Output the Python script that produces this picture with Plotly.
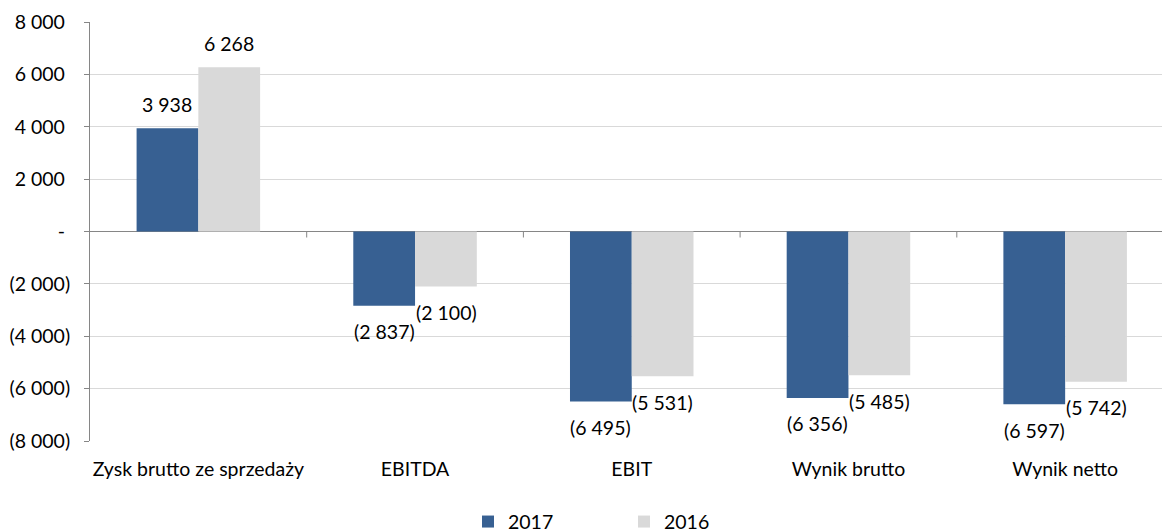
import plotly.graph_objects as go

categories = ["Zysk brutto ze sprzedaży", "EBITDA", "EBIT", "Wynik brutto", "Wynik netto"]
values_2017 = [3938, -2837, -6495, -6356, -6597]
values_2016 = [6268, -2100, -5531, -5485, -5742]
series_names = ["2017", "2016"]
tick_values = [8000, 6000, 4000, 2000, 0, -2000, -4000, -6000, -8000]

COL_2017 = "#376092"
COL_2016 = "#D9D9D9"
FONT = "Lato"
FS = 19.5

PAD = '<span style="color:rgba(0,0,0,0)">)</span>'


def fmt(v):
    if v == 0:
        return "-"
    s = f"{abs(v):,}".replace(",", " ")
    return f"({s})" if v < 0 else s


def fmt_axis(v):
    s = fmt(v)
    return s if v < 0 else s + PAD


fig = go.Figure()
fig.add_trace(go.Bar(x=categories, y=values_2017, name=series_names[0],
                     marker=dict(color=COL_2017, line=dict(width=0))))
fig.add_trace(go.Bar(x=categories, y=values_2016, name=series_names[1],
                     marker=dict(color=COL_2016, line=dict(width=0))))

annotations = []
for vals, shift in ((values_2017, -31), (values_2016, 31)):
    for c, v in zip(categories, vals):
        annotations.append(dict(x=c, y=v, xref="x", yref="y", text=fmt(v),
                                showarrow=False, xshift=shift,
                                yshift=24 if v >= 0 else -26,
                                font=dict(family=FONT, size=FS, color="#000000")))

shapes = []
for i in range(len(categories)):
    shapes.append(dict(type="line", xref="x", yref="y", ysizemode="pixel", yanchor=0,
                       x0=i + 0.5, x1=i + 0.5, y0=0, y1=-6,
                       line=dict(color="#868686", width=1)))

# the reference plot area runs past the right edge of the picture
fig.update_layout(
    width=1180, height=532,
    margin=dict(l=90, r=6, t=22, b=91, autoexpand=False),
    paper_bgcolor="white", plot_bgcolor="white",
    barmode="group", bargap=0.43, bargroupgap=0,
    font=dict(family=FONT, size=FS, color="#000000"),
    showlegend=True,
    legend=dict(orientation="h", x=(468 - 90) / 1084, xanchor="left", y=-0.193,
                yanchor="middle",
                font=dict(family=FONT, size=FS, color="#000000"),
                entrywidth=111, itemclick=False),
    annotations=annotations,
    shapes=shapes,
)
fig.update_xaxes(showgrid=False, showline=False, ticks="", ticklabelstandoff=14,
                 automargin=False, tickfont=dict(family=FONT, size=FS))
fig.update_yaxes(range=[-8000, 8000], tickvals=tick_values,
                 ticktext=[fmt_axis(v) for v in tick_values],
                 showgrid=True, gridcolor="#D9D9D9", gridwidth=1,
                 zeroline=True, zerolinecolor="#868686", zerolinewidth=1,
                 showline=True, linecolor="#868686", linewidth=1,
                 ticks="outside", ticklen=5, tickcolor="#868686",
                 automargin=False,
                 ticklabelstandoff=10, tickfont=dict(family=FONT, size=FS))

fig.write_html("out.html", config={"displayModeBar": False, "responsive": False},
               post_script="document.body.style.margin='0';document.body.style.overflow='hidden';")
